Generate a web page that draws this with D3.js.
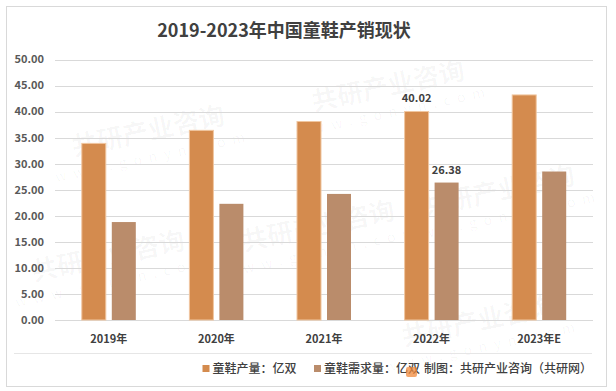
<!DOCTYPE html>
<html>
<head>
<meta charset="utf-8">
<script src="https://cdn.jsdelivr.net/npm/d3@7"></script>
<style>
  body { margin: 0; background: #fff; }
  text { font-family: "Noto Sans CJK SC", "Noto Sans", sans-serif; }
</style>
</head>
<body>
<div id="chart"></div>
<script>
const years = ["2019年", "2020年", "2021年", "2022年", "2023年E"];
const seriesNames = ["童鞋产量：亿双", "童鞋需求量：亿双"];
const production = [33.9, 36.4, 38.1, 40.02, 43.2];
const demand = [18.8, 22.3, 24.2, 26.38, 28.5];
const labelled = ["2022年"]; // only this year has value labels
const yTicks = [0, 5, 10, 15, 20, 25, 30, 35, 40, 45, 50];

const width = 616, height = 391;
const colors = ["#d48b4e", "#ba8c6b"];
const textColor = "#404040";

const svg = d3.select("#chart").append("svg")
  .attr("width", width)
  .attr("height", height)
  .style("background", "#fff");

// outer frame
svg.append("rect")
  .attr("x", 6.5).attr("y", 6.5)
  .attr("width", 600).attr("height", 380)
  .attr("fill", "#fff")
  .attr("stroke", "#d9d9d9");

// faint watermarks, kept inside the frame
const wm = svg.append("g").attr("fill", "#000").attr("fill-opacity", 0.035);
[[150, 140], [390, 95], [110, 265], [320, 235], [500, 200], [480, 330]]
  .forEach(([x, y]) => {
    const g = wm.append("g").attr("transform", `translate(${x},${y}) rotate(-12)`);
    g.append("text").attr("text-anchor", "middle")
      .attr("font-size", 26).attr("font-weight", 700)
      .text("共研产业咨询");
    g.append("text").attr("text-anchor", "middle").attr("y", 22)
      .attr("font-size", 14).attr("letter-spacing", 7)
      .text("www.gonyn.com");
  });

const x = d3.scaleBand().domain(years).range([55, 593]);
const x1 = d3.scaleBand().domain(seriesNames).range([0, 54]).paddingInner(0.2);
const y = d3.scaleLinear().domain([0, 50]).range([320, 59.5]);

// gridlines + y labels
svg.append("g")
  .selectAll("line")
  .data(yTicks)
  .join("line")
  .attr("x1", 55).attr("x2", 593)
  .attr("y1", d => Math.round(y(d)) + 0.5)
  .attr("y2", d => Math.round(y(d)) + 0.5)
  .attr("stroke", "#d9d9d9");

svg.append("g")
  .selectAll("text")
  .data(yTicks)
  .join("text")
  .attr("x", 44)
  .attr("y", d => y(d))
  .attr("dy", "0.35em")
  .attr("text-anchor", "end")
  .attr("font-size", 11)
  .attr("font-weight", 600)
  .attr("fill", "#595959")
  .text(d => d3.format(".2f")(d));

// bars
const rows = years.map((yr, i) => ({ year: yr, values: [production[i], demand[i]] }));
const groupOffset = (x.bandwidth() - 54) / 2;

const group = svg.append("g")
  .selectAll("g")
  .data(rows)
  .join("g")
  .attr("transform", d => `translate(${x(d.year) + groupOffset},0)`);

group.selectAll("rect")
  .data(d => d.values.map((v, j) => ({ year: d.year, name: seriesNames[j], value: v, j })))
  .join("rect")
  .attr("x", d => x1(d.name))
  .attr("y", d => y(d.value))
  .attr("width", x1.bandwidth())
  .attr("height", d => y(0) - y(d.value))
  .attr("fill", d => colors[d.j])
  .attr("stroke", d => d.j === 0 ? "#f0c6a0" : "none")
  .attr("stroke-width", 1);

group.selectAll("text.val")
  .data(d => labelled.includes(d.year)
    ? d.values.map((v, j) => ({ name: seriesNames[j], value: v }))
    : [])
  .join("text")
  .attr("class", "val")
  .attr("x", d => x1(d.name) + x1.bandwidth() / 2)
  .attr("y", d => y(d.value) - 9)
  .attr("text-anchor", "middle")
  .attr("font-size", 11)
  .attr("font-weight", 700)
  .attr("fill", textColor)
  .text(d => d3.format(".2f")(d.value));

// category labels
svg.append("g")
  .selectAll("text")
  .data(years)
  .join("text")
  .attr("x", d => x(d) + x.bandwidth() / 2)
  .attr("y", 343)
  .attr("text-anchor", "middle")
  .attr("font-size", 11)
  .attr("font-weight", 600)
  .attr("fill", textColor)
  .text(d => d);

// separator above legend
svg.append("line")
  .attr("x1", 14).attr("x2", 592)
  .attr("y1", 353.5).attr("y2", 353.5)
  .attr("stroke", "#e6e6e6");

// legend
const legendX = [202.5, 314];
seriesNames.forEach((name, i) => {
  svg.append("rect")
    .attr("x", legendX[i]).attr("y", 365)
    .attr("width", 7).attr("height", 7)
    .attr("fill", colors[i]);
  svg.append("text")
    .attr("x", legendX[i] + 10).attr("y", 368.5)
    .attr("dy", "0.35em")
    .attr("font-size", 12)
    .attr("font-weight", 500)
    .attr("fill", textColor)
    .text(name);
});

// small logo mark
svg.append("rect")
  .attr("x", 406).attr("y", 367)
  .attr("width", 11).attr("height", 10).attr("rx", 2)
  .attr("fill", "#f08a3c").attr("fill-opacity", 0.75);

svg.append("text")
  .attr("x", 424).attr("y", 368.5)
  .attr("dy", "0.35em")
  .attr("font-size", 12)
  .attr("font-weight", 500)
  .attr("fill", textColor)
  .text("制图：共研产业咨询（共研网）");

// title
svg.append("text")
  .attr("x", 284)
  .attr("y", 37)
  .attr("text-anchor", "middle")
  .attr("font-size", 18)
  .attr("font-weight", 700)
  .attr("fill", textColor)
  .text("2019-2023年中国童鞋产销现状");
</script>
</body>
</html>
